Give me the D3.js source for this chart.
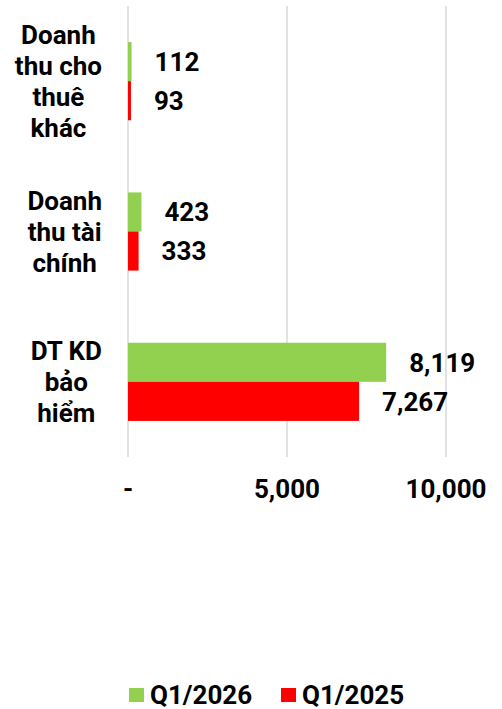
<!DOCTYPE html>
<html><head><meta charset="utf-8">
<script src="https://cdn.jsdelivr.net/npm/d3@7"></script>
<style>
html,body{margin:0;padding:0;background:#fff;}
text{font-family:Roboto,"Noto Sans",sans-serif;font-weight:bold;fill:#000;}
</style></head>
<body><svg id="c" width="502" height="709"></svg>
<script>
const categories = [["Doanh","thu cho","thuê","khác"],["Doanh","thu tài","chính"],["DT KD","bảo","hiểm"]];
const seriesNames = ["Q1/2026","Q1/2025"];
const q1_2026 = [112, 423, 8119];
const q1_2025 = [93, 333, 7267];
const tickValues = [0, 5000, 10000];
const tickLabels = ["-", "5,000", "10,000"];
const colors = ["#92d050","#ff0000"];

const svg = d3.select("#c");
const fs = 26;
const x = d3.scaleLinear().domain([0,10000]).range([128,446]);
const catIdx = categories.map((d,i)=>i);
const y = d3.scaleBand().domain(catIdx).range([6,457]).paddingInner(0.48).paddingOuter(0.24);
const sub = d3.scaleBand().domain([0,1]).range([0,y.bandwidth()]);

// grid
svg.append("g").selectAll("line").data(tickValues).join("line")
  .attr("x1",d=>x(d)).attr("x2",d=>x(d)).attr("y1",6).attr("y2",457)
  .attr("stroke","#d9d9d9").attr("stroke-width",1.5);

const series = [q1_2026, q1_2025];
series.forEach((vals,s)=>{
  const g = svg.append("g");
  g.selectAll("rect").data(vals).join("rect")
    .attr("x",x(0)).attr("y",(d,i)=>y(i)+sub(s))
    .attr("width",d=>x(d)-x(0)).attr("height",sub.bandwidth())
    .attr("fill",colors[s]);
  g.selectAll("text").data(vals).join("text")
    .attr("x",d=>x(d)+23).attr("y",(d,i)=>y(i)+sub(s)+sub.bandwidth()/2)
    .attr("dy","0.36em").attr("font-size",fs)
    .text(d=>d3.format(",")(d));
});

// category labels
categories.forEach((lines,i)=>{
  const g = svg.append("g");
  const lh = 31;
  const cy = y(i)+y.bandwidth()/2;
  const t = g.selectAll("text").data(lines).join("text")
    .attr("font-size",fs).attr("text-anchor","middle")
    .attr("y",(d,j)=>cy + (j-(lines.length-1)/2)*lh).attr("dy","0.36em")
    .text(d=>d);
  let mw = 0; t.each(function(){mw=Math.max(mw,this.getComputedTextLength());});
  t.attr("x",102-mw/2);
});

// axis labels
svg.append("g").selectAll("text").data(tickValues).join("text")
  .attr("x",d=>x(d)).attr("y",498).attr("text-anchor","middle").attr("font-size",fs)
  .text((d,i)=>tickLabels[i]);

// legend
const lx = [129, 281];
seriesNames.forEach((n,i)=>{
  svg.append("rect").attr("x",lx[i]).attr("y",688).attr("width",15).attr("height",14).attr("fill",colors[i]);
  svg.append("text").attr("x",lx[i]+21).attr("y",704).attr("font-size",fs).text(n);
});
</script></body></html>
